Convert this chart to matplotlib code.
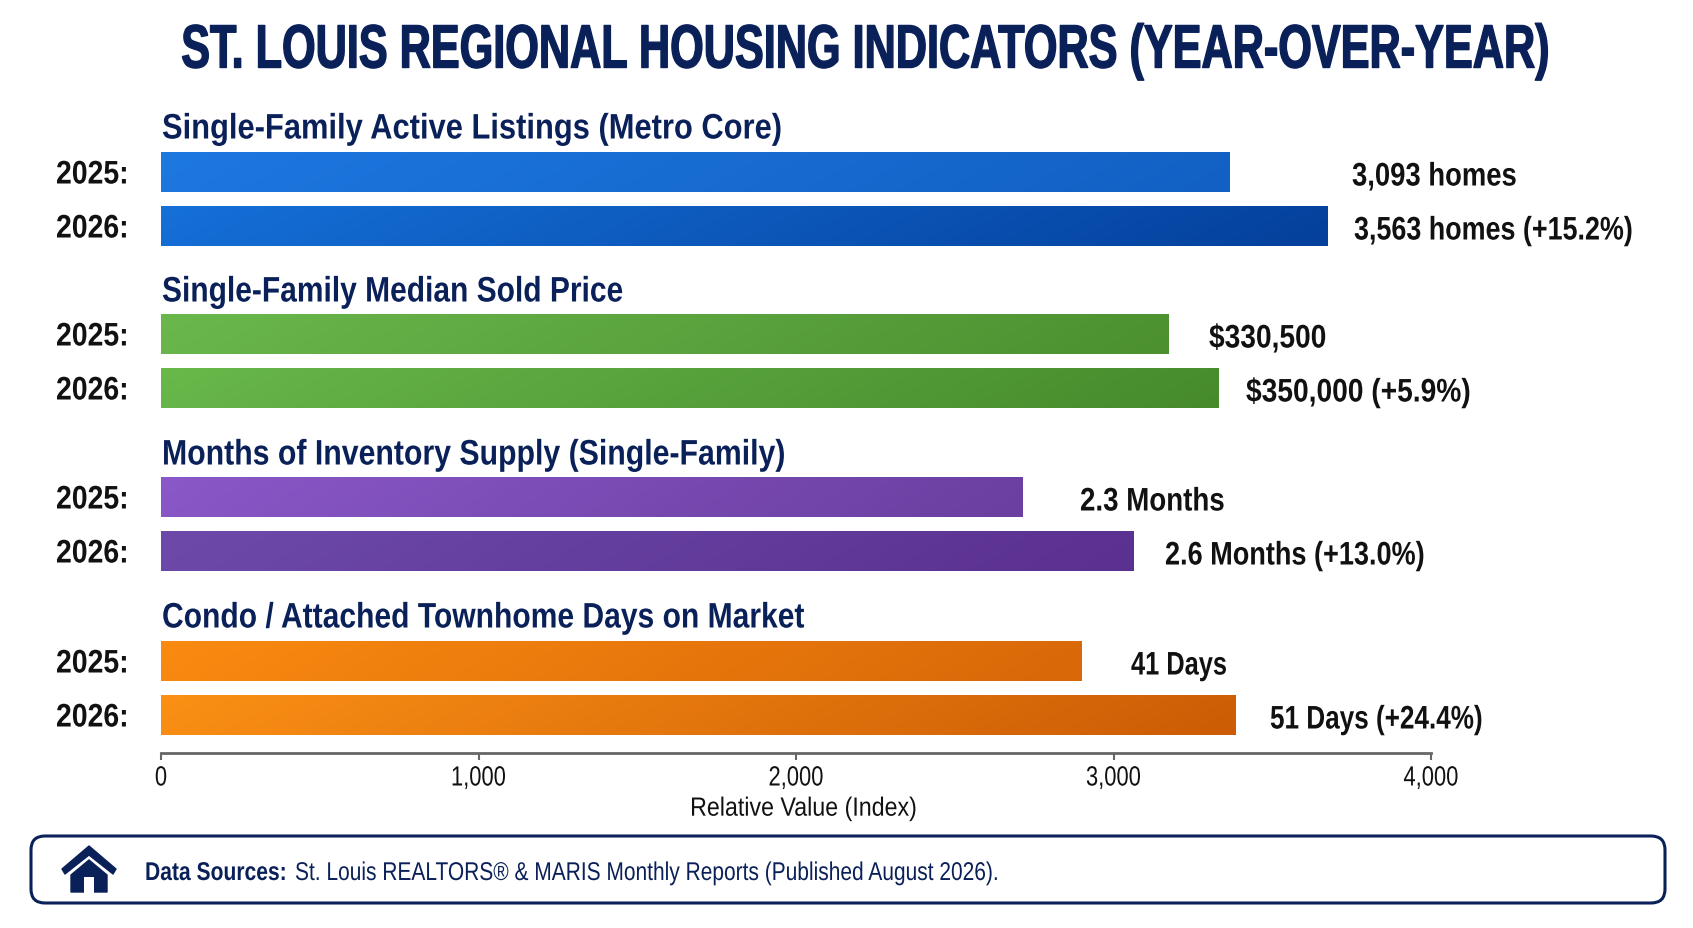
import matplotlib
matplotlib.use("Agg")
import matplotlib.pyplot as plt
import matplotlib.colors as mcolors
import numpy as np
from matplotlib.patches import FancyBboxPatch, Polygon, Rectangle
from matplotlib.patheffects import AbstractPathEffect
from matplotlib.transforms import Affine2D, Bbox

W, H = 1693, 929
FONT = "Liberation Sans"

title = "ST. LOUIS REGIONAL HOUSING INDICATORS (YEAR-OVER-YEAR)"
groups = ["Single-Family Active Listings (Metro Core)", "Single-Family Median Sold Price",
          "Months of Inventory Supply (Single-Family)", "Condo / Attached Townhome Days on Market"]
years = ["2025:", "2026:"]
values = [3365, 3674, 3174, 3331, 2712, 3062, 2899, 3385]
labels = ["3,093 homes", "3,563 homes (+15.2%)", "$330,500", "$350,000 (+5.9%)",
          "2.3 Months", "2.6 Months (+13.0%)", "41 Days", "51 Days (+24.4%)"]
ticks = [0, 1000, 2000, 3000, 4000]
xlabel = "Relative Value (Index)"
source_head = "Data Sources:"
source_text = "St. Louis REALTORS® & MARIS Monthly Reports (Published August 2026)."

# pixel layout, top down
bar_y = [173, 227, 335, 389, 498, 552, 662, 716]
bar_h = 40
group_y = [130, 293, 456, 619]
group_sx = [0.872, 0.846, 0.854, 0.848]
label_x = [1352, 1354, 1209, 1246, 1080, 1165, 1131, 1270]
label_sx = [0.841, 0.824, 0.862, 0.863, 0.849, 0.83, 0.778, 0.80]
grads = [("#1d78e0", "#1260c4"), ("#1570d8", "#04409c"),
         ("#6ab84c", "#4c9030"), ("#68b84a", "#468a2c"),
         ("#8a58c8", "#6a3fa0"), ("#6d4aaa", "#5a3090"),
         ("#fa8a10", "#d86808"), ("#fb9015", "#cc5c05")]
NAVY = "#0a2058"
INK = "#111111"


def fx(px):
    return px / W


def fy(py):
    return 1 - py / H


# no condensed font is installed, so squeeze the glyphs sideways at draw time
class Squeeze(AbstractPathEffect):
    def __init__(self, text, sx, stroke=0):
        super().__init__()
        self.text = text
        self.sx = sx
        self.stroke = stroke

    def draw_path(self, renderer, gc, tpath, affine, rgbFace=None):
        x0 = self.text.get_transform().transform(self.text.get_position())[0]
        squeeze = Affine2D().translate(-x0, 0).scale(self.sx, 1).translate(x0, 0)
        gc0 = renderer.new_gc()
        gc0.copy_properties(gc)
        gc0.set_linewidth(self.stroke)
        gc0.set_foreground(self.text.get_color())
        renderer.draw_path(gc0, tpath, affine + squeeze, rgbFace)
        gc0.restore()


def narrow(text, sx, stroke=0):
    text.set_path_effects([Squeeze(text, sx, stroke)])
    orig = text.get_window_extent

    def extent(renderer=None, dpi=None):
        bb = orig(renderer, dpi)
        x0 = text.get_transform().transform(text.get_position())[0]
        return Bbox([[x0 + (bb.x0 - x0) * sx, bb.y0], [x0 + (bb.x1 - x0) * sx, bb.y1]])

    text.get_window_extent = extent
    return text


fig = plt.figure(figsize=(W / 100, H / 100), dpi=100, facecolor="white")

ax = fig.add_axes([fx(161), fy(754), (1431 - 161) / W, (754 - 130) / H])
ax.set_facecolor("none")

gx, gy = np.meshgrid(np.linspace(0, 1, 256), np.linspace(0, 1, 16))
ramp = 0.94 * gx + 0.06 * gy

bars = ax.barh(bar_y, values, height=bar_h, color=[g[0] for g in grads], linewidth=0)
for b, (c0, c1) in zip(bars, grads):
    cmap = mcolors.LinearSegmentedColormap.from_list("g", [c0, c1])
    im = ax.imshow(ramp, extent=(0, b.get_width(), b.get_y() + bar_h, b.get_y()),
                   cmap=cmap, aspect="auto", interpolation="bilinear", vmin=0, vmax=1, zorder=2)
    im.set_clip_path(b)
ax.set_xlim(0, 4000)
ax.set_ylim(754, 130)

for s in ["top", "left", "right"]:
    ax.spines[s].set_visible(False)
ax.spines["bottom"].set_color("#666666")
ax.spines["bottom"].set_linewidth(2)
ax.set_yticks([])
ax.set_xticks(ticks)
ax.set_xticklabels([f"{t:,}" for t in ticks], fontname=FONT, fontsize=20, color=INK)
ax.tick_params(axis="x", length=5, width=1.5, color="#666666", pad=4)
for lab in ax.get_xticklabels():
    narrow(lab, 0.79)
ax.set_xlabel(xlabel, fontname=FONT, fontsize=19, color=INK)
ax.xaxis.set_label_coords(0.506, -0.07)
narrow(ax.xaxis.label, 0.88)

narrow(fig.text(fx(866), fy(53), title, ha="center", va="center", fontname=FONT, fontweight="bold",
                fontsize=44, color=NAVY), 0.707, stroke=1.0)

for name, y, sx in zip(groups, group_y, group_sx):
    narrow(fig.text(fx(162), fy(y), name, ha="left", va="center", fontname=FONT, fontweight="bold",
                    fontsize=25.5, color=NAVY), sx)

for i, y in enumerate(bar_y):
    narrow(fig.text(fx(56), fy(y + 3), years[i % 2], ha="left", va="center", fontname=FONT,
                    fontweight="bold", fontsize=23.5, color=INK), 0.87)
    narrow(fig.text(fx(label_x[i]), fy(y + 5), labels[i], ha="left", va="center", fontname=FONT,
                    fontweight="bold", fontsize=23.5, color=INK), label_sx[i])

# footer box and house icon, drawn on an overlay in pixels
ov = fig.add_axes([0, 0, 1, 1])
ov.set_xlim(0, W)
ov.set_ylim(H, 0)
ov.axis("off")
ov.patch.set_alpha(0)
ov.add_patch(FancyBboxPatch((31, 837), 1634, 67, boxstyle="round,pad=0,rounding_size=14",
                            fc="white", ec=NAVY, lw=2.2))
ov.add_patch(Polygon([(89, 847), (116, 870), (113, 875), (89, 856), (65, 875), (62, 870)],
                     fc=NAVY, ec=NAVY, lw=1, joinstyle="round"))
ov.add_patch(Polygon([(89, 861), (107, 876), (107, 893), (71, 893), (71, 876)],
                     fc=NAVY, ec=NAVY, lw=1, joinstyle="round"))
ov.add_patch(Rectangle((84, 878), 10, 16, fc="white", ec="none"))

narrow(ov.text(145, 874, source_head, ha="left", va="center", fontname=FONT, fontweight="bold",
               fontsize=18.5, color=NAVY), 0.82)
narrow(ov.text(295, 874, source_text, ha="left", va="center", fontname=FONT, fontsize=18.5,
               color=NAVY), 0.815)

fig.savefig("out.png", dpi=100)
